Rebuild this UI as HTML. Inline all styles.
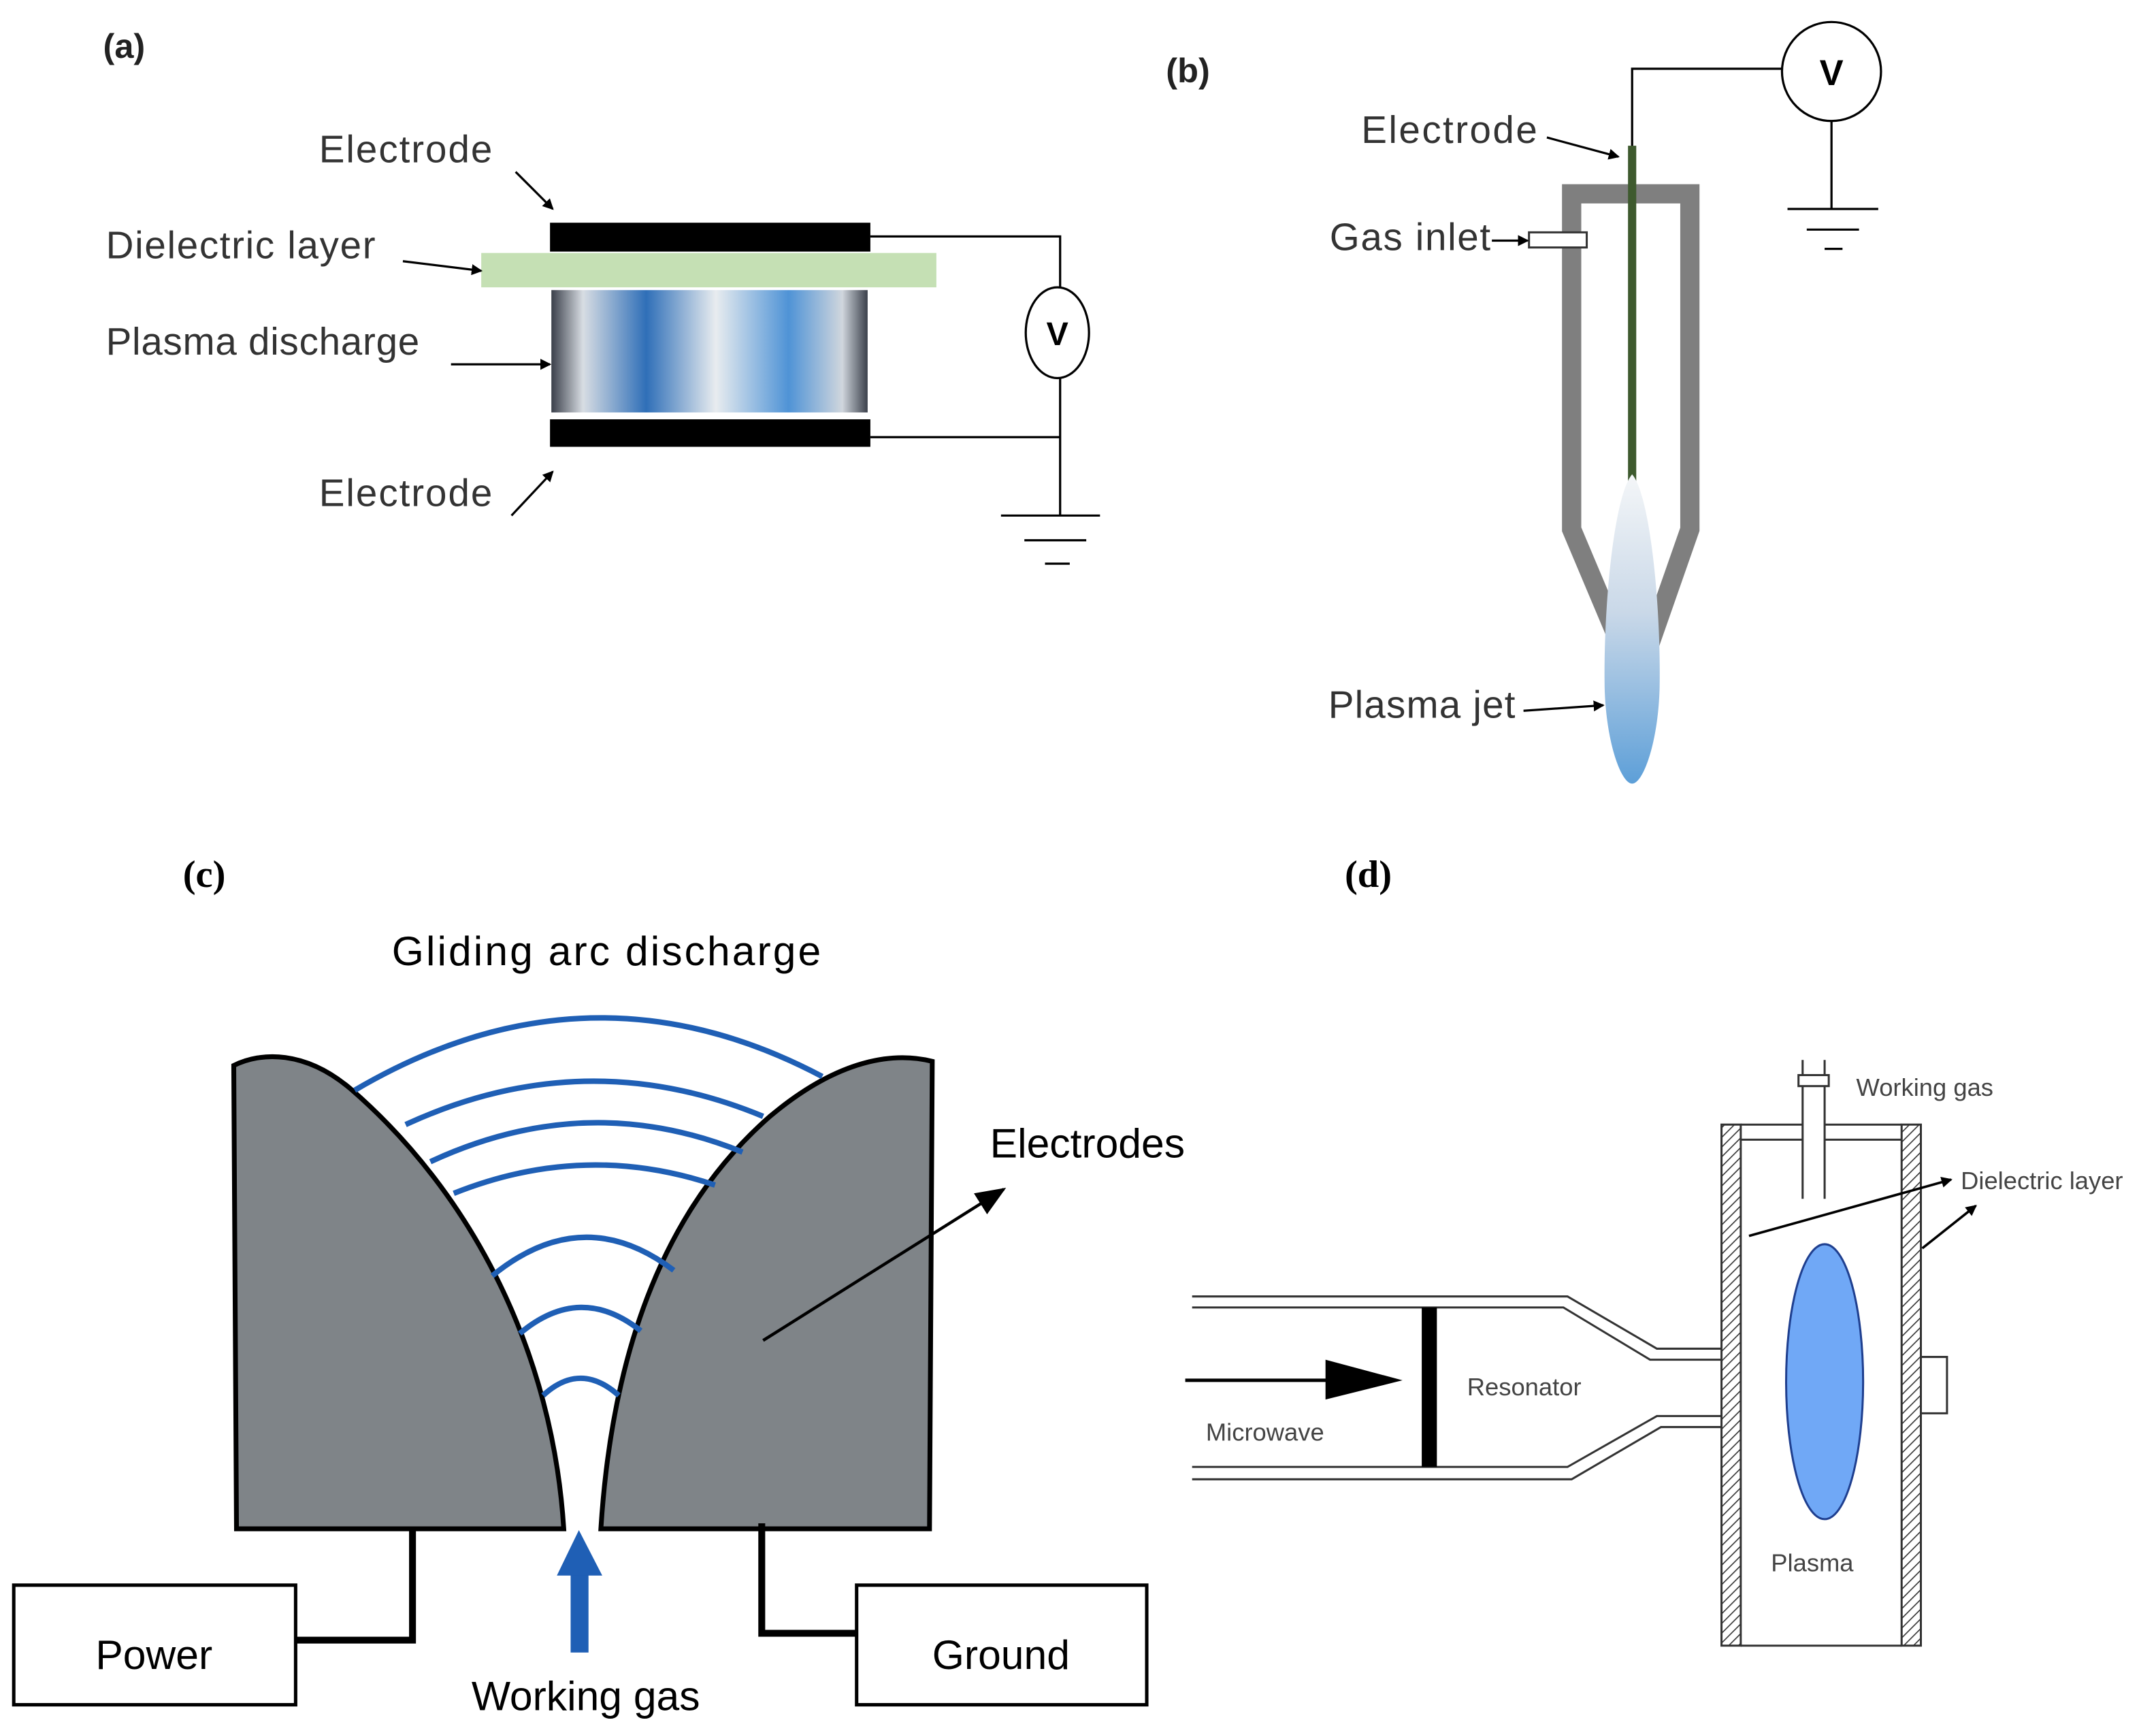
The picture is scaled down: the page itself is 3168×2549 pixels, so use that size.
<!DOCTYPE html>
<html><head><meta charset="utf-8"><style>html,body{margin:0;padding:0;background:#fff}svg{display:block}</style></head>
<body>
<svg width="3168" height="2549" viewBox="0 0 1568 1262" preserveAspectRatio="none" xmlns="http://www.w3.org/2000/svg" font-family="Liberation Sans, sans-serif">
<defs>
<marker id="ah" markerWidth="8" markerHeight="8" refX="7" refY="4" orient="auto" markerUnits="userSpaceOnUse"><path d="M0,0 L8,4 L0,8 Z" fill="#000"/></marker>
<marker id="ah2" markerWidth="22" markerHeight="18" refX="20" refY="9" orient="auto" markerUnits="userSpaceOnUse"><path d="M0,0 L22,9 L0,18 Z" fill="#000"/></marker>
<linearGradient id="pl" x1="0" x2="1" y1="0" y2="0">
<stop offset="0" stop-color="#3a3f4a"/><stop offset="0.1" stop-color="#d8dde3"/><stop offset="0.3" stop-color="#2f6fb8"/><stop offset="0.52" stop-color="#e8ecef"/><stop offset="0.75" stop-color="#4f93d6"/><stop offset="0.92" stop-color="#d0d6dd"/><stop offset="1" stop-color="#3a3f4a"/>
</linearGradient>
<linearGradient id="jet" x1="0" x2="0" y1="0" y2="1"><stop offset="0" stop-color="#f4f6f8"/><stop offset="0.45" stop-color="#c9d8e8"/><stop offset="1" stop-color="#5d9fd8"/></linearGradient>
<pattern id="hatch" width="5" height="5" patternUnits="userSpaceOnUse" patternTransform="rotate(45)"><rect width="5" height="5" fill="#fff"/><line x1="0" y1="0" x2="0" y2="5" stroke="#333" stroke-width="1.6"/></pattern>
</defs>

<!-- (a) -->
<text x="75" y="42" font-size="25" font-weight="bold" fill="#222">(a)</text>
<rect x="400" y="162" width="233" height="21" fill="#000"/>
<rect x="350" y="184" width="331" height="25" fill="#c5e0b4"/>
<rect x="401" y="211" width="230" height="89" fill="url(#pl)"/>
<rect x="400" y="305" width="233" height="20" fill="#000"/>
<g stroke="#000" stroke-width="1.6" fill="none">
<polyline points="633,172 771,172 771,209"/>
<ellipse cx="769" cy="242" rx="23" ry="33" fill="#fff"/>
<polyline points="633,318 771,318"/>
<line x1="771" y1="275" x2="771" y2="375"/>
<line x1="728" y1="375" x2="800" y2="375"/>
<line x1="745" y1="393" x2="790" y2="393"/>
<line x1="760" y1="410" x2="778" y2="410"/>
<line x1="375" y1="125" x2="402" y2="152" marker-end="url(#ah)"/>
<line x1="293" y1="190" x2="350" y2="197" marker-end="url(#ah)"/>
<line x1="328" y1="265" x2="400" y2="265" marker-end="url(#ah)"/>
<line x1="372" y1="375" x2="402" y2="343" marker-end="url(#ah)"/>
</g>
<text x="769" y="251" font-size="24" font-weight="bold" text-anchor="middle">V</text>
<g font-size="28" fill="#333">
<text x="232" y="118" textLength="126">Electrode</text>
<text x="77" y="188" textLength="196">Dielectric layer</text>
<text x="77" y="258" textLength="228">Plasma discharge</text>
<text x="232" y="368" textLength="126">Electrode</text>
</g>

<!-- (b) -->
<text x="848" y="60" font-size="25" font-weight="bold" fill="#222">(b)</text>
<g stroke="#000" stroke-width="1.6" fill="none">
<polyline points="1187,108 1187,50 1296,50"/>
<circle cx="1332" cy="52" r="36" fill="#fff"/>
<line x1="1332" y1="88" x2="1332" y2="152"/>
<line x1="1300" y1="152" x2="1366" y2="152"/>
<line x1="1314" y1="167" x2="1352" y2="167"/>
<line x1="1327" y1="181" x2="1340" y2="181"/>
</g>
<text x="1332" y="62" font-size="26" font-weight="bold" text-anchor="middle">V</text>
<g stroke="#7f7f7f" stroke-width="14" fill="none" stroke-linejoin="miter">
<polyline points="1178,468 1143,385 1143,141 1229,141 1229,385 1200,468"/>
</g>
<rect x="1184" y="106" width="6" height="250" fill="#3e5a2e"/>
<path d="M1187,345 C1200,360 1208,440 1207,500 C1206,540 1195,570 1187,570 C1179,570 1168,540 1167,500 C1166,440 1174,360 1187,345 Z" fill="url(#jet)"/>
<rect x="1112" y="169" width="42" height="11" fill="#fff" stroke="#333" stroke-width="1.5"/>
<g stroke="#000" stroke-width="1.6">
<line x1="1125" y1="100" x2="1177" y2="114" marker-end="url(#ah)"/>
<line x1="1085" y1="175" x2="1111" y2="175" marker-end="url(#ah)"/>
<line x1="1108" y1="517" x2="1166" y2="513" marker-end="url(#ah)"/>
</g>
<g font-size="28" fill="#333">
<text x="990" y="104" textLength="128">Electrode</text>
<text x="967" y="182" textLength="117">Gas inlet</text>
<text x="966" y="522" textLength="136">Plasma jet</text>
</g>

<!-- (c) -->
<text x="133" y="645" font-size="28" font-weight="bold" font-family="Liberation Serif, serif">(c)</text>
<text x="285" y="702" font-size="30" textLength="312">Gliding arc discharge</text>
<g fill="#7f8488" stroke="#000" stroke-width="3.5">
<path d="M172,1112 L170,775 C190,765 222,764 255,792 C345,870 402,985 410,1112 Z"/>
<path d="M437,1112 C445,985 482,880 560,812 C610,770 650,765 678,772 L676,1112 Z"/>
</g>
<g stroke="#1f5fb5" stroke-width="4" fill="none">
<path d="M258,793 Q428,693 598,783"/>
<path d="M295,818 Q425,758 555,812"/>
<path d="M313,845 Q427,792 540,838"/>
<path d="M330,868 Q425,830 520,862"/>
<path d="M358,928 Q424,874 490,924"/>
<path d="M378,970 Q422,933 466,968"/>
<path d="M395,1015 Q422,990 450,1015"/>
</g>
<line x1="555" y1="975" x2="730" y2="865" stroke="#000" stroke-width="2.2" marker-end="url(#ah2)"/>
<text x="720" y="842" font-size="30">Electrodes</text>
<rect x="10" y="1153" width="205" height="87" fill="#fff" stroke="#000" stroke-width="2.5"/>
<text x="112" y="1214" font-size="30" text-anchor="middle">Power</text>
<rect x="623" y="1153" width="211" height="87" fill="#fff" stroke="#000" stroke-width="2.5"/>
<text x="728" y="1214" font-size="30" text-anchor="middle">Ground</text>
<g stroke="#000" stroke-width="5" fill="none">
<polyline points="300,1112 300,1193 215,1193"/>
<polyline points="554,1108 554,1188 623,1188"/>
</g>
<rect x="415" y="1140" width="13" height="62" fill="#1f5fb5"/>
<path d="M405,1146 L421,1113 L438,1146 Z" fill="#1f5fb5"/>
<text x="426" y="1244" font-size="30" text-anchor="middle">Working gas</text>

<!-- (d) -->
<text x="978" y="645" font-size="28" font-weight="bold" font-family="Liberation Serif, serif">(d)</text>
<g stroke="#333" stroke-width="1.5" fill="none">
<polyline points="867,943 1140,943 1205,981 1252,981"/>
<polyline points="867,951 1137,951 1200,989 1252,989"/>
<polyline points="867,1067 1140,1067 1205,1030 1252,1030"/>
<polyline points="867,1076 1143,1076 1208,1038 1252,1038"/>
<line x1="1266" y1="818" x2="1311" y2="818"/><line x1="1327" y1="818" x2="1383" y2="818"/>
<line x1="1266" y1="829" x2="1311" y2="829"/><line x1="1327" y1="829" x2="1383" y2="829"/>
<line x1="1311" y1="771" x2="1311" y2="872"/><line x1="1327" y1="771" x2="1327" y2="872"/>
<rect x="1308" y="782" width="22" height="8" fill="#fff"/>
<line x1="1266" y1="1197" x2="1383" y2="1197"/>
<polyline points="1397,987 1416,987 1416,1028 1397,1028"/>
</g>
<rect x="1252" y="818" width="14" height="379" fill="url(#hatch)" stroke="#333" stroke-width="1.5"/>
<rect x="1383" y="818" width="14" height="379" fill="url(#hatch)" stroke="#333" stroke-width="1.5"/>
<rect x="1034" y="951" width="11" height="116" fill="#000"/>
<line x1="862" y1="1004" x2="966" y2="1004" stroke="#000" stroke-width="2.5"/>
<path d="M964,989 L1020,1004 L964,1018 Z" fill="#000"/>
<ellipse cx="1327" cy="1005" rx="28" ry="100" fill="#70a8f6" stroke="#1f3f8f" stroke-width="1.5"/>
<g stroke="#000" stroke-width="1.8">
<line x1="1272" y1="899" x2="1419" y2="858" marker-end="url(#ah)"/>
<line x1="1398" y1="908" x2="1437" y2="877" marker-end="url(#ah)"/>
</g>
<g font-size="18" fill="#444">
<text x="1067" y="1015">Resonator</text>
<text x="877" y="1048">Microwave</text>
<text x="1350" y="797">Working gas</text>
<text x="1426" y="865">Dielectric layer</text>
<text x="1288" y="1143">Plasma</text>
</g>
</svg>
</body></html>
